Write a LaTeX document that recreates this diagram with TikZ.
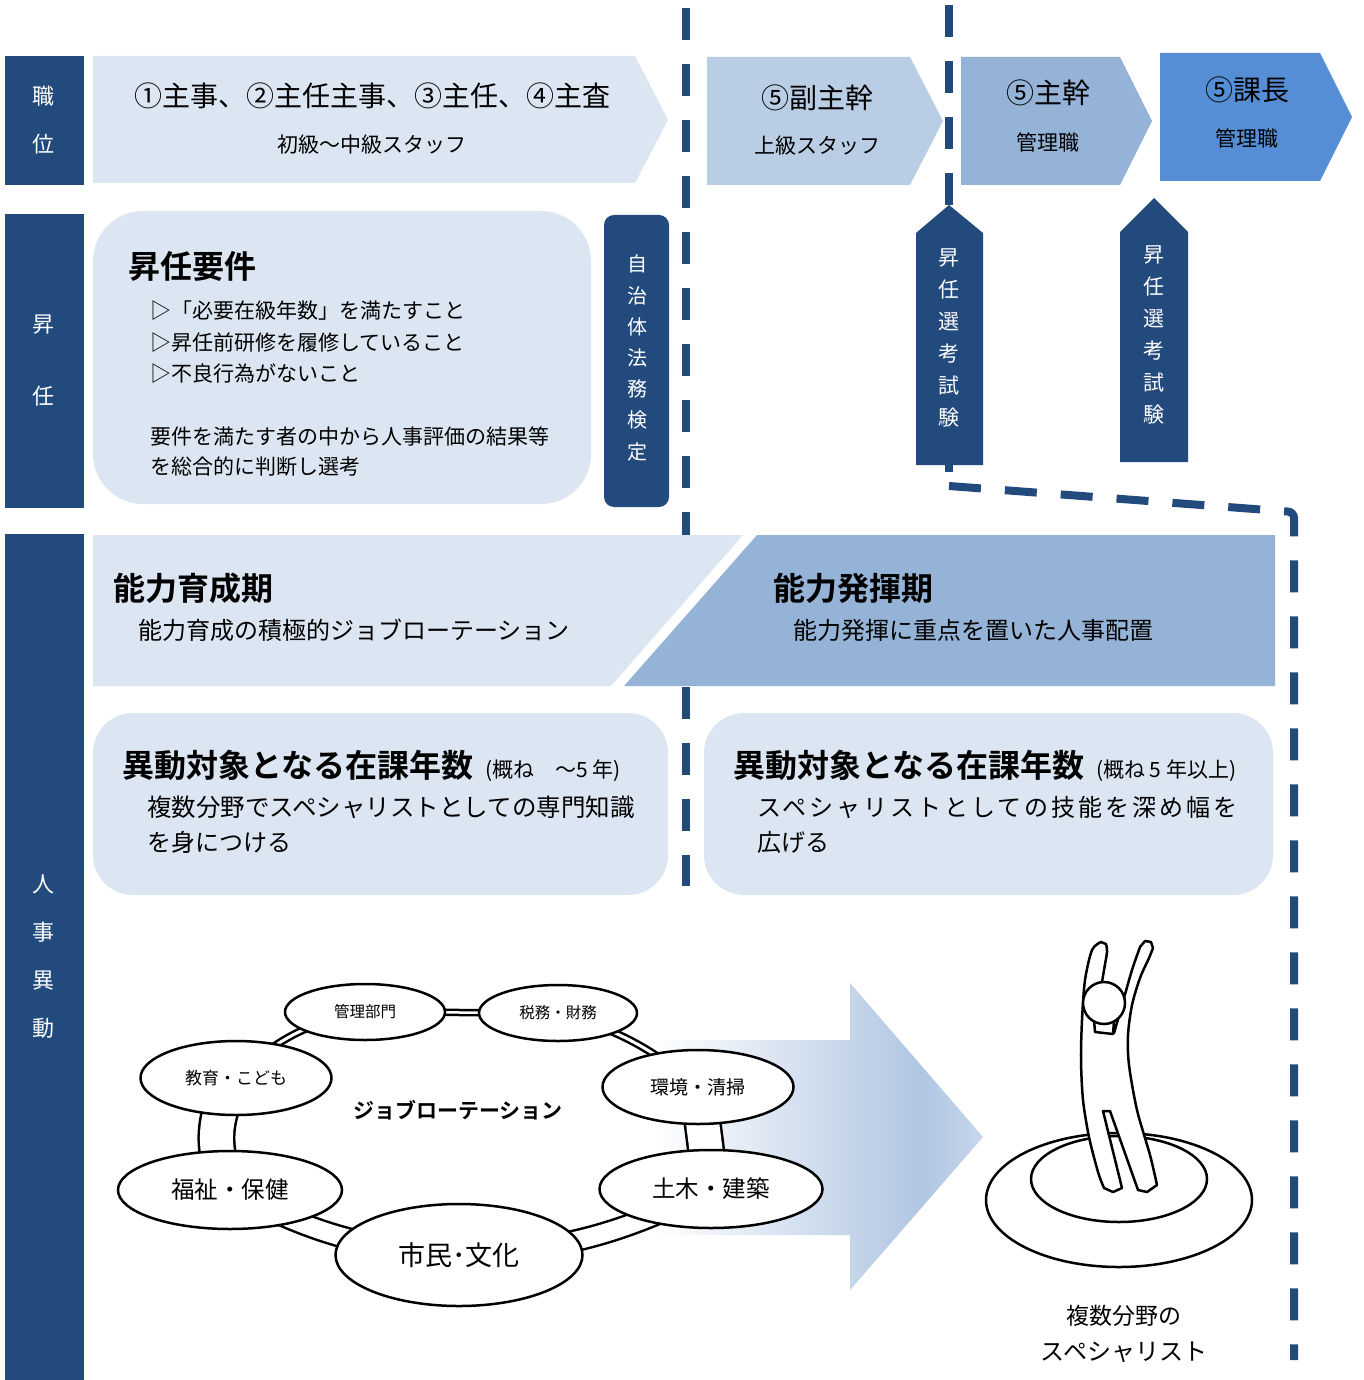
\documentclass[tikz,border=0pt]{standalone}
\usepackage{fontspec}
\setmainfont{Noto Sans CJK JP}[BoldFont={Noto Sans CJK JP Bold}]
\usetikzlibrary{shapes.geometric}
\definecolor{navy}{HTML}{224A7C}
\definecolor{paleblue}{HTML}{DCE6F2}
\definecolor{softblue}{HTML}{B9CDE5}
\definecolor{midblue}{HTML}{95B3D7}
\definecolor{brightblue}{HTML}{558ED5}
\definecolor{fadeblue}{HTML}{B0C6E2}
\definecolor{fadetip}{HTML}{C8D7EB}
\pgfdeclarehorizontalshading{arrowfade}{100bp}{color(0bp)=(white); color(32bp)=(white); color(67bp)=(fadeblue); color(75bp)=(fadetip); color(100bp)=(fadetip)}
\pgfdeclarelayer{bg}
\pgfsetlayers{bg,main}
\newcommand\fsz[2]{\fontsize{#1}{#2}\selectfont}
\begin{document}
\begin{tikzpicture}[x=1pt,y=-1pt,
  every node/.style={inner sep=0pt, outer sep=0pt},
  whitetext/.style={text=white, align=center},
  dashline/.style={draw=navy, line width=8pt, dash pattern=on 32pt off 24pt},
  ringnode/.style={ellipse, draw=black, line width=2.5pt, fill=white, inner sep=0pt},
  ringlink/.style={draw=black, line width=2.5pt, double=white},
  figline/.style={draw=black, line width=2.5pt, fill=white, line join=round},
]
\useasboundingbox (0,0) rectangle (1363,1380);
\begin{pgfonlayer}{bg}
  \fill[white] (0,0) rectangle (1363,1380);
\end{pgfonlayer}

% ---- dashed boundaries ----
\draw[dashline] (686,8) -- (686,535);
\draw[dashline] (686,687) -- (686,886);
\draw[dashline] (949,5) -- (949,205);
\draw[navy, line width=8pt] (949,462) -- (949,472);
\draw[dashline, rounded corners=6pt] (949,486) -- (1294,512) -- (1294,1360);

% ---- position chevrons ----
\fill[paleblue] (93,56) -- (635,56) -- (668,120) -- (635,183) -- (93,183) -- cycle;
\node[font=\fsz{28}{28}] (rankA) at (372,96) {①主事、②主任主事、③主任、④主査};
\node[font=\fsz{21}{21}] (rankAsub) at (372,145) {初級～中級スタッフ};

\fill[softblue] (707,57) -- (910,57) -- (943,121) -- (910,185) -- (707,185) -- cycle;
\node[font=\fsz{28}{28}] (rankB) at (817,98) {⑤副主幹};
\node[font=\fsz{21}{21}] (rankBsub) at (817,146) {上級スタッフ};

\fill[midblue] (961,57) -- (1120,57) -- (1152,121) -- (1120,185) -- (961,185) -- cycle;
\node[font=\fsz{28}{28}] (rankC) at (1048,93) {⑤主幹};
\node[font=\fsz{21}{21}] (rankCsub) at (1048,142) {管理職};

\fill[brightblue] (1160,53) -- (1320,53) -- (1352,117) -- (1320,181) -- (1160,181) -- cycle;
\node[font=\fsz{28}{28}] (rankD) at (1247,90) {⑤課長};
\node[font=\fsz{21}{21}] (rankDsub) at (1247,138) {管理職};

% ---- row labels ----
\fill[navy] (5,56) rectangle (84,185);
\node[whitetext, font=\fsz{22}{48}] (labPos) at (43,120) {職\\位};
\fill[navy] (5,214) rectangle (84,508);
\node[whitetext, font=\fsz{22}{72}] (labPromo) at (43,361) {昇\\任};
\fill[navy] (5,534) rectangle (84,1380);
\node[whitetext, font=\fsz{22}{48}] (labMove) at (43,957) {人\\事\\異\\動};

% ---- promotion requirements ----
\fill[paleblue, rounded corners=50pt] (93,211) rectangle (591,504);
\node[anchor=west, font=\bfseries\fsz{32}{32}] (reqTitle) at (128,266) {昇任要件};
\node[anchor=west, font=\fsz{21}{21}] (reqA) at (150,311) {▷「必要在級年数」を満たすこと};
\node[anchor=west, font=\fsz{21}{21}] (reqB) at (150,343) {▷昇任前研修を履修していること};
\node[anchor=west, font=\fsz{21}{21}] (reqC) at (150,374) {▷不良行為がないこと};
\node[anchor=west, font=\fsz{21}{21}] (reqD) at (150,436) {要件を満たす者の中から人事評価の結果等};
\node[anchor=west, font=\fsz{21}{21}] (reqE) at (150,467) {を総合的に判断し選考};

\fill[navy, rounded corners=10pt] (604,215) rectangle (669,507);
\node[whitetext, font=\fsz{20}{31.2}] (lawExam) at (637,358) {自\\治\\体\\法\\務\\検\\定};

% ---- selection exam markers ----
\fill[navy] (916,465) -- (916,233) -- (949,205) -- (983,233) -- (983,465) -- cycle;
\node[whitetext, font=\fsz{21}{32}] (selA) at (949,338) {昇\\任\\選\\考\\試\\験};
\fill[navy] (1120,462) -- (1120,232) -- (1154,198) -- (1188,232) -- (1188,462) -- cycle;
\node[whitetext, font=\fsz{21}{32}] (selB) at (1154,335) {昇\\任\\選\\考\\試\\験};

% ---- career phases ----
\fill[paleblue] (93,535) -- (743,535) -- (611,686) -- (93,686) -- cycle;
\fill[midblue] (757,535) -- (1275,535) -- (1275,686) -- (624,686) -- cycle;
\node[anchor=west, font=\bfseries\fsz{32}{32}] (growTitle) at (113,588) {能力育成期};
\node[anchor=west, font=\fsz{24}{24}] (growText) at (138,630) {能力育成の積極的ジョブローテーション};
\node[anchor=west, font=\bfseries\fsz{32}{32}] (useTitle) at (773,588) {能力発揮期};
\node[anchor=west, font=\fsz{24}{24}] (useText) at (793,630) {能力発揮に重点を置いた人事配置};

% ---- tenure boxes ----
\fill[paleblue, rounded corners=40pt] (93,713) rectangle (668,895);
\fill[paleblue, rounded corners=40pt] (704,713) rectangle (1273,895);
\node[anchor=base west] (yearsA) at (122,777) {{\bfseries\fsz{32}{32}異動対象となる在課年数}\hspace{12pt}{\fsz{21}{21}(概ね　～5 年)}};
\node[anchor=west, font=\fsz{24.5}{24.5}] (yearsAa) at (147,807) {複数分野でスペシャリストとしての専門知識};
\node[anchor=west, font=\fsz{24}{24}] (yearsAb) at (147,842) {を身につける};
\node[anchor=base west] (yearsB) at (733,777) {{\bfseries\fsz{32}{32}異動対象となる在課年数}\hspace{12pt}{\fsz{21}{21}(概ね 5 年以上)}};
\node[anchor=west, font={\fsz{24}{24}\addfontfeatures{LetterSpace=12.5}}] (yearsBa) at (757,807) {スペシャリストとしての技能を深め幅を};
\node[anchor=west, font=\fsz{24}{24}] (yearsBb) at (757,842) {広げる};

% ---- job rotation ring ----
\node[ringnode, minimum width=160pt, minimum height=56pt, font=\fsz{15.5}{15.5}] (kanri) at (365,1012) {管理部門};
\node[ringnode, minimum width=158pt, minimum height=56pt, font=\fsz{15.5}{15.5}] (zeimu) at (558,1013) {税務・財務};
\node[ringnode, minimum width=191pt, minimum height=74pt, font=\fsz{17}{17}] (kyoiku) at (236,1078) {教育・こども};
\node[ringnode, minimum width=191pt, minimum height=74pt, font=\fsz{19}{19}] (kankyo) at (698,1087) {環境・清掃};
\node[ringnode, minimum width=224pt, minimum height=78pt, font=\fsz{23.5}{23.5}] (fukushi) at (230,1190) {福祉・保健};
\node[ringnode, minimum width=223pt, minimum height=78pt, font=\fsz{23.5}{23.5}] (doboku) at (711,1189) {土木・建築};
\node[ringnode, minimum width=247pt, minimum height=102pt, font=\fsz{27}{27}] (shimin) at (459,1255) {市民･文化};
\node[font=\bfseries\fsz{21}{21}] (rotation) at (458,1110) {ジョブローテーション};

\begin{pgfonlayer}{bg}
  % growth arrow
  \shade[shading=arrowfade] (600,1040) -- (850,1040) -- (850,983) -- (983,1137) -- (850,1290) -- (850,1235) -- (600,1235) -- cycle;
  % ring links
  \draw[ringlink, double distance=2.5pt] (kanri.center) -- (zeimu.center);
  \draw[ringlink, double distance=3pt] (kanri.center) to[bend right=17] (kyoiku.center);
  \draw[ringlink, double distance=3pt] (zeimu.center) to[bend left=12] (kankyo.center);
  \draw[ringlink, double distance=33pt] (kyoiku.center) to[bend right=30] (fukushi.center);
  \draw[ringlink, double distance=33pt] (kankyo.center) -- (doboku.center);
  \draw[ringlink, double distance=18pt] (fukushi.center) to[bend right=12] (shimin.center);
  \draw[ringlink, double distance=18pt] (shimin.center) to[bend right=12] (doboku.center);
\end{pgfonlayer}

% ---- specialist on a podium ----
\draw[figline] (1119,1200) ellipse [x radius=133, y radius=67];
\draw[figline] (1119,1179) ellipse [x radius=88, y radius=43];
\draw[figline] plot[smooth, tension=0.5] coordinates {(1101,942) (1092,950) (1085,980) (1082,1020) (1081,1060) (1083,1100) (1089,1137) (1098,1172) (1104,1188)}
  -- (1113,1192) -- (1122,1188)
  -- (1103,1111) -- (1110,1111)
  -- (1138,1190) -- (1147,1192) -- (1157,1185)
  -- plot[smooth, tension=0.5] coordinates {(1157,1185) (1150,1155) (1137,1110) (1129,1065) (1128,1035) (1132,1005) (1140,978) (1149,958) (1153,948)}
  -- (1151,942) -- (1145,941) -- (1140,947)
  -- plot[smooth, tension=0.5] coordinates {(1140,947) (1132,970) (1122,1005) (1114,1033)}
  -- (1099,1030)
  -- plot[smooth, tension=0.5] coordinates {(1099,1000) (1104,970) (1107,952) (1106,944)}
  -- cycle;
\draw[figline] (1094,1020) -- (1114,1021) -- (1113,1034) -- (1095,1032) -- cycle;
\draw[figline] (1104,1003) circle[radius=21];
\node[font=\fsz{23}{23}] (specA) at (1124,1316) {複数分野の};
\node[font=\fsz{24}{24}] (specB) at (1124,1352) {スペシャリスト};
\end{tikzpicture}
\end{document}
